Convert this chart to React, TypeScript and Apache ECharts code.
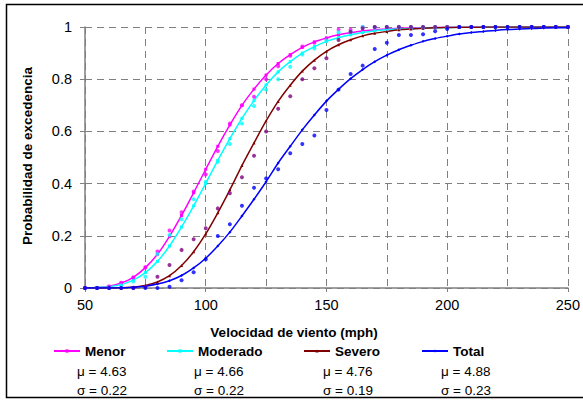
import React, { useEffect, useRef } from "react";
import * as echarts from "echarts";

const speeds = [50, 55, 60, 65, 70, 75, 80, 85, 90, 95, 100, 105, 110, 115, 120, 125, 130, 135, 140, 145, 150, 155, 160, 165, 170, 175, 180, 185, 190, 195, 200, 205, 210, 215, 220, 225, 230, 235, 240, 245, 250];

const menorFit = [0.001, 0.002, 0.007, 0.019, 0.041, 0.078, 0.129, 0.198, 0.278, 0.365, 0.455, 0.543, 0.625, 0.7, 0.762, 0.816, 0.86, 0.894, 0.922, 0.943, 0.958, 0.97, 0.978, 0.985, 0.989, 0.992, 0.995, 0.996, 0.997, 0.998, 0.999, 0.999, 1, 1, 1, 1, 1, 1, 1, 1, 1];
const moderadoFit = [0, 0.002, 0.005, 0.013, 0.03, 0.059, 0.102, 0.161, 0.234, 0.315, 0.401, 0.489, 0.572, 0.65, 0.718, 0.778, 0.828, 0.867, 0.9, 0.925, 0.945, 0.959, 0.97, 0.979, 0.985, 0.989, 0.992, 0.994, 0.996, 0.997, 0.998, 0.999, 0.999, 1, 1, 1, 1, 1, 1, 1, 1];
const severoFit = [0, 0, 0, 0.001, 0.004, 0.01, 0.023, 0.047, 0.086, 0.139, 0.207, 0.288, 0.376, 0.469, 0.556, 0.64, 0.715, 0.777, 0.831, 0.873, 0.907, 0.932, 0.951, 0.966, 0.976, 0.983, 0.989, 0.992, 0.995, 0.997, 0.998, 0.999, 0.999, 1, 1, 1, 1, 1, 1, 1, 1];
const totalFit = [0, 0, 0, 0.001, 0.003, 0.007, 0.015, 0.028, 0.048, 0.077, 0.114, 0.161, 0.214, 0.276, 0.34, 0.407, 0.479, 0.543, 0.606, 0.663, 0.716, 0.761, 0.802, 0.837, 0.867, 0.892, 0.913, 0.93, 0.945, 0.956, 0.965, 0.973, 0.979, 0.983, 0.987, 0.99, 0.992, 0.994, 0.996, 0.997, 0.997];

const menorObs = [0, 0, 0.005, 0.02, 0.04, 0.08, 0.14, 0.22, 0.29, 0.37, 0.435, 0.525, 0.63, 0.7, 0.733, 0.8, 0.85, 0.89, 0.925, 0.94, 0.955, 0.99, 0.99, 1, 1, 1, 1, 1, 1, 1, 1, 1, 1, 1, 1, 1, 1, 1, 1, 1, 1];
const moderadoObs = [0, 0, 0, 0.01, 0.025, 0.043, 0.13, 0.203, 0.263, 0.34, 0.407, 0.484, 0.552, 0.63, 0.697, 0.76, 0.8, 0.848, 0.895, 0.918, 0.948, 0.98, 0.982, 1, 1, 1, 1, 1, 1, 1, 1, 1, 1, 1, 1, 1, 1, 1, 1, 1, 1];
const severoObs = [0, 0, 0, 0, 0, 0.005, 0.043, 0.088, 0.146, 0.187, 0.229, 0.305, 0.363, 0.424, 0.507, 0.6, 0.687, 0.735, 0.8, 0.842, 0.88, 0.95, 0.982, 0.995, 1, 1, 1, 1, 1, 1, 1, 1, 1, 1, 1, 1, 1, 1, 1, 1, 1];
const totalObs = [0, 0, 0, 0, 0, 0, 0, 0.005, 0.03, 0.06, 0.11, 0.199, 0.244, 0.315, 0.384, 0.42, 0.455, 0.516, 0.552, 0.584, 0.682, 0.76, 0.82, 0.852, 0.916, 0.94, 0.969, 0.969, 0.972, 0.984, 0.992, 1, 1, 1, 1, 1, 1, 1, 1, 1, 1];

const seriesNames = ["Menor", "Moderado", "Severo", "Total"];
const muLabels = ["μ = 4.63", "μ = 4.66", "μ = 4.76", "μ = 4.88"];
const sigmaLabels = ["σ = 0.22", "σ = 0.22", "σ = 0.19", "σ = 0.23"];

const FONT = "Arial, 'Liberation Sans', sans-serif";

export default function App() {
  const ref = useRef<HTMLDivElement>(null);
  useEffect(() => {
    if (!ref.current) return;
    const chart = echarts.init(ref.current, null, { renderer: "svg" });
    const fitColors = ["#FF00FF", "#00FFFF", "#800000", "#0000FF"];
    const obsColors = ["#FF00FF", "#00FFFF", "#800080", "#0000FF"];
    const fitSymbols = ["rect", "rect", "triangle", "diamond"];
    const fits = [menorFit, moderadoFit, severoFit, totalFit];
    const obs = [menorObs, moderadoObs, severoObs, totalObs];
    const legendLeft = [53, 166, 303, 421];
    const textLeft = [77, 194, 323, 441];

    const series: any[] = [];
    fits.forEach((arr, i) => {
      series.push({
        name: seriesNames[i],
        type: "line",
        data: speeds.map((s, k) => [s, arr[k]]),
        smooth: 0.3,
        symbol: fitSymbols[i],
        symbolSize: 3,
        showSymbol: true,
        lineStyle: { color: fitColors[i], width: 1.5 },
        itemStyle: { color: fitColors[i] },
        z: 3,
      });
    });
    obs.forEach((arr, i) => {
      series.push({
        name: seriesNames[i] + " obs",
        type: "scatter",
        data: speeds.map((s, k) => [s, arr[k]]),
        symbol: "circle",
        symbolSize: 4,
        itemStyle: { color: obsColors[i] },
        z: 4,
      });
    });

    const legends = seriesNames.map((n, i) => ({
      data: [n],
      left: legendLeft[i],
      top: 344,
      padding: 0,
      itemWidth: 26,
      itemHeight: 4,
      itemGap: 4,
      textStyle: { fontFamily: FONT, fontSize: 13.5, fontWeight: "bold", color: "#000" },
      selectedMode: false,
    }));

    const graphics: any[] = [
      {
        type: "rect",
        shape: { x: 6.5, y: 4.5, width: 620, height: 393 },
        style: { fill: "none", stroke: "#000", lineWidth: 1.5 },
        silent: true,
      },
      {
        type: "text",
        x: 294,
        y: 332,
        style: {
          text: "Velocidad de viento (mph)",
          font: `bold 13.5px ${FONT}`,
          fill: "#000",
          align: "center",
          verticalAlign: "middle",
        },
      },
      {
        type: "text",
        x: 27,
        y: 156,
        rotation: Math.PI / 2,
        style: {
          text: "Probabilidad de excedencia",
          font: `bold 13.5px ${FONT}`,
          fill: "#000",
          align: "center",
          verticalAlign: "middle",
        },
      },
    ];
    muLabels.forEach((t, i) => {
      graphics.push({
        type: "text",
        x: textLeft[i],
        y: 371,
        style: { text: t, font: `13.5px ${FONT}`, fill: "#000", verticalAlign: "middle" },
      });
      graphics.push({
        type: "text",
        x: textLeft[i],
        y: 390,
        style: { text: sigmaLabels[i], font: `13.5px ${FONT}`, fill: "#000", verticalAlign: "middle" },
      });
    });

    chart.setOption({
      animation: false,
      backgroundColor: "#fff",
      grid: { left: 85, top: 27, width: 488, height: 261, containLabel: false },
      legend: legends,
      xAxis: {
        type: "value",
        min: 50,
        max: 250,
        interval: 50,
        axisLine: { show: true, lineStyle: { color: "#808080", width: 1.5 } },
        axisTick: { show: true, length: 4, lineStyle: { color: "#808080" } },
        minorTick: { show: false, splitNumber: 2 },
        minorSplitLine: { show: true, lineStyle: { color: "#808080", type: [7, 5], width: 1 } },
        splitLine: { show: true, lineStyle: { color: "#808080", type: [7, 5], width: 1 } },
        axisLabel: { fontFamily: FONT, fontSize: 14.5, color: "#000", margin: 9 },
      },
      yAxis: {
        type: "value",
        min: 0,
        max: 1,
        interval: 0.2,
        axisLine: { show: true, lineStyle: { color: "#808080", width: 1.5 } },
        axisTick: { show: true, length: 5, lineStyle: { color: "#808080" } },
        splitLine: { show: true, lineStyle: { color: "#808080", type: [7, 5], width: 1 } },
        axisLabel: { fontFamily: FONT, fontSize: 14.5, color: "#000", margin: 13 },
      },
      graphic: graphics,
      series,
    });
    return () => chart.dispose();
  }, []);
  return (
    <div
      ref={ref}
      style={{ position: "fixed", left: 0, top: 0, width: 583, height: 403 }}
    />
  );
}
